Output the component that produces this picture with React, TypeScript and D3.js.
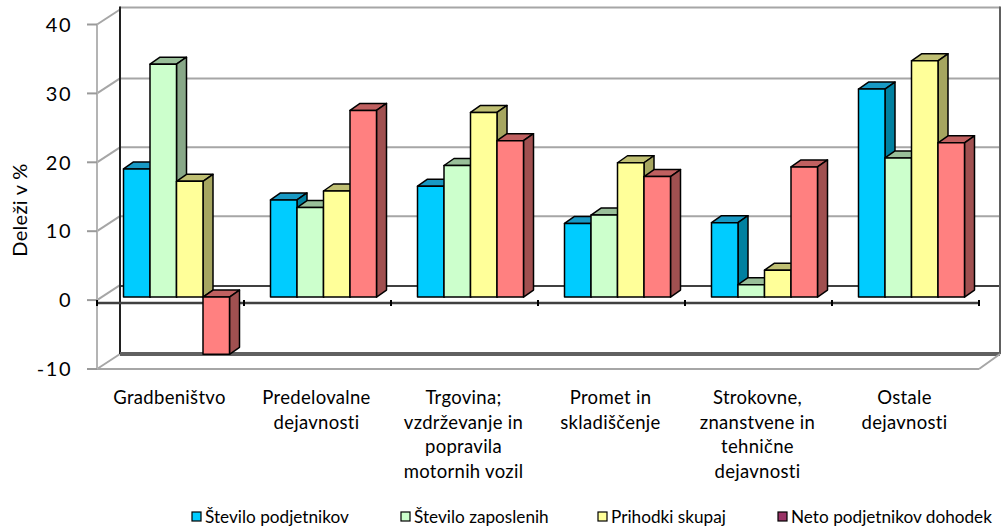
import * as React from "react"
import * as d3 from "d3"

// categories (multi-line labels)
const categories = [
  ["Gradbeništvo"],
  ["Predelovalne", "dejavnosti"],
  ["Trgovina;", "vzdrževanje in", "popravila", "motornih vozil"],
  ["Promet in", "skladiščenje"],
  ["Strokovne,", "znanstvene in", "tehnične", "dejavnosti"],
  ["Ostale", "dejavnosti"],
]
const seriesNames = [
  "Število podjetnikov",
  "Število zaposlenih",
  "Prihodki skupaj",
  "Neto podjetnikov dohodek",
]
const podjetniki = [18.6, 14.1, 16.1, 10.7, 10.8, 30.2]
const zaposleni = [33.8, 13.0, 19.1, 11.9, 1.8, 20.2]
const prihodki = [16.8, 15.4, 26.8, 19.5, 3.9, 34.3]
const dohodek = [-8.3, 27.1, 22.7, 17.5, 18.9, 22.4]
const yTicks = [-10, 0, 10, 20, 30, 40]

const series = [podjetniki, zaposleni, prihodki, dohodek]
// front, top, side colours
const faces = [
  ["#00CCFF", "#1899C4", "#0080A0"],
  ["#CCFFCC", "#99BF99", "#88A888"],
  ["#FFFF99", "#BFBF73", "#A6A660"],
  ["#FF8080", "#C06060", "#A05050"],
]
const legendColors = ["#00CCFF", "#CCFFCC", "#FFFF99", "#993366"]
const legendX = [192, 401, 598, 778]

const font = "Lato, 'Open Sans', sans-serif"

export default function App(): React.JSX.Element {
  const width = 1002
  const height = 530

  // front plane
  const x = d3.scaleBand<number>().domain(d3.range(categories.length)).range([97, 979])
  const inner = d3.scaleBand<number>().domain(d3.range(series.length)).range([20.5, 126.5])
  const y = d3.scaleLinear().domain([-10, 40]).range([369, 24.5])

  // back wall offset, bar plane offset, bar depth
  const BX = 23, BY = -15
  const PX = 6, PY = -3
  const DX = 10, DY = -7

  const backL = x.range()[0] + BX
  const backR = x.range()[1] + BX - 2
  const frontL = x.range()[0]
  const frontR = x.range()[1]

  const bars: React.ReactNode[] = []
  categories.forEach((_, ci) => {
    series.forEach((s, si) => {
      const v = s[ci]
      const x0 = x(ci)! + inner(si)! + PX
      const x1 = x0 + inner.bandwidth()
      const yTop = Math.min(y(v), y(0)) + PY
      const yBot = Math.max(y(v), y(0)) + PY
      const [front, top, side] = faces[si]
      bars.push(
        <g key={`${ci}-${si}`} stroke="#000" strokeWidth={1.5} strokeLinejoin="round">
          <polygon
            points={`${x0},${yTop} ${x0 + DX},${yTop + DY} ${x1 + DX},${yTop + DY} ${x1},${yTop}`}
            fill={top}
          />
          <polygon
            points={`${x1},${yTop} ${x1 + DX},${yTop + DY} ${x1 + DX},${yBot + DY} ${x1},${yBot}`}
            fill={side}
          />
          <rect x={x0} y={yTop} width={x1 - x0} height={yBot - yTop} fill={front} />
        </g>
      )
    })
  })

  return (
    <svg
      width={width}
      height={height}
      style={{ position: "absolute", left: 0, top: 0, background: "#fff" }}
      fontFamily={font}
    >
      {/* back wall gridlines */}
      {[10, 20, 30].map((t) => (
        <line key={t} x1={backL} x2={backR} y1={y(t) + BY} y2={y(t) + BY} stroke="#a6a6a6" strokeWidth={2} />
      ))}
      {/* back wall top */}
      <line x1={backL} x2={backR} y1={y(40) + BY - 2} y2={y(40) + BY - 2} stroke="#a6a6a6" strokeWidth={2} />
      {/* back wall zero line */}
      <line x1={backL} x2={backR} y1={y(0) + BY + 1} y2={y(0) + BY + 1} stroke="#000" strokeWidth={1.5} />
      {/* left wall diagonals */}
      {yTicks.map((t) => (
        <line key={t} x1={frontL} x2={backL} y1={y(t)} y2={y(t) + BY} stroke="#a6a6a6" strokeWidth={2} />
      ))}
      {/* back wall edges */}
      <line x1={backL} x2={backL} y1={y(40) + BY - 3} y2={y(-10) + BY} stroke="#202020" strokeWidth={2} />
      <line x1={backR} x2={backR} y1={y(40) + BY - 3} y2={y(-10) + BY} stroke="#606060" strokeWidth={2} />
      {/* floor */}
      <line x1={backL} x2={backR} y1={y(-10) + BY} y2={y(-10) + BY} stroke="#606060" strokeWidth={4} />
      <line x1={frontL} x2={frontR} y1={y(-10)} y2={y(-10)} stroke="#a6a6a6" strokeWidth={2} />
      <line x1={frontR} x2={backR} y1={y(-10)} y2={y(-10) + BY} stroke="#a6a6a6" strokeWidth={2} />
      {/* front value axis */}
      <line x1={frontL} x2={frontL} y1={y(40)} y2={y(-10)} stroke="#b4b4b4" strokeWidth={2} />
      {yTicks.map((t) => (
        <g key={t}>
          <line x1={frontL - 10} x2={frontL} y1={y(t)} y2={y(t)} stroke="#9a9a9a" strokeWidth={2} />
          <text x={72} y={y(t)} dy="0.36em" textAnchor="end" fontSize={20} letterSpacing={1.5} fill="#000">
            {t}
          </text>
        </g>
      ))}
      {/* category axis */}
      <line x1={frontL} x2={frontR} y1={y(0) + 3} y2={y(0) + 3} stroke="#404040" strokeWidth={2.5} />
      {d3.range(categories.length + 1).map((i) => {
        const tx = i < categories.length ? x(i)! : frontR
        return <line key={i} x1={tx} x2={tx} y1={y(0)} y2={y(0) + 6} stroke="#000" strokeWidth={2} />
      })}

      {bars}

      {/* category labels */}
      {categories.map((lines, ci) => (
        <text
          key={ci}
          x={x(ci)! + x.bandwidth() / 2 - 1}
          y={404}
          textAnchor="middle"
          fontSize={18.5}
          letterSpacing={0.3}
          fill="#000"
        >
          {lines.map((l, li) => (
            <tspan key={li} x={x(ci)! + x.bandwidth() / 2 - 1} dy={li === 0 ? 0 : 24.5}>
              {l}
            </tspan>
          ))}
        </text>
      ))}

      {/* y axis title */}
      <text
        transform="translate(27,210) rotate(-90)"
        textAnchor="middle"
        fontSize={20}
        letterSpacing={0.3}
        fill="#000"
      >
        Deleži v %
      </text>

      {/* legend */}
      {seriesNames.map((name, i) => (
        <g key={name}>
          <rect x={legendX[i]} y={512} width={9} height={9} fill={legendColors[i]} stroke="#000" strokeWidth={1.2} />
          <text x={legendX[i] + 13} y={517} dy="0.36em" fontSize={17.2} fill="#000">
            {name}
          </text>
        </g>
      ))}
    </svg>
  )
}
